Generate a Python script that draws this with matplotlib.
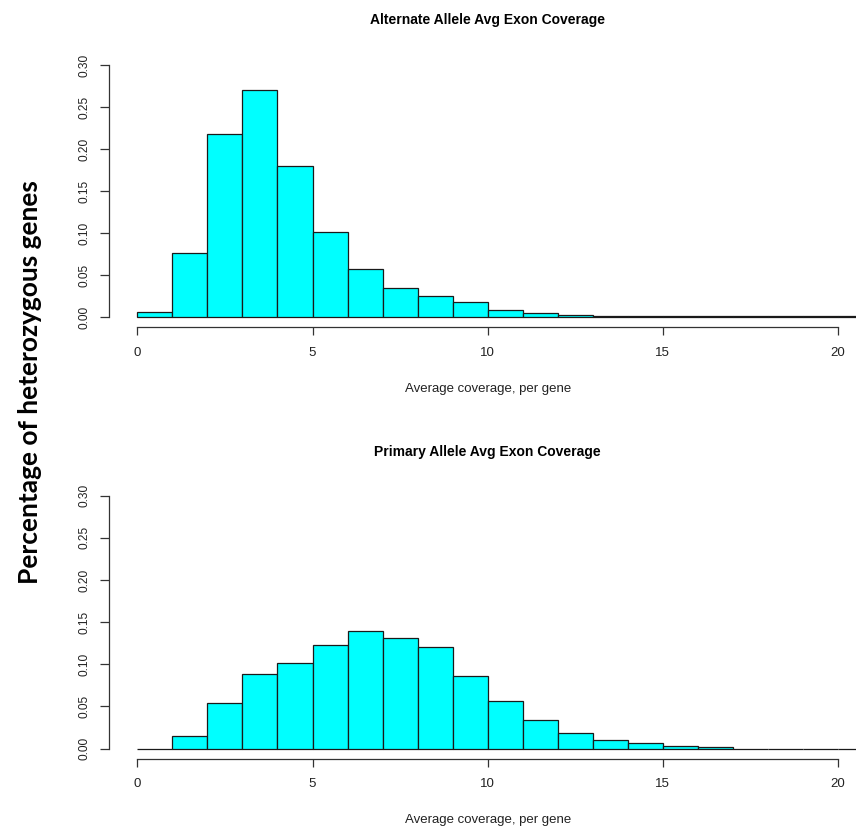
import numpy as np
import matplotlib
matplotlib.use("Agg")
import matplotlib.pyplot as plt

plt.rcParams['font.family'] = ['Liberation Sans', 'DejaVu Sans']

# histogram breaks (width 1) and densities per bin
bin_edges = list(range(0, 24))
alt_density = [0.0056, 0.0758, 0.218, 0.270, 0.180, 0.101, 0.057, 0.034, 0.025, 0.018,
               0.0080, 0.0052, 0.0028, 0.0012, 0.0009, 0.0008, 0.0007, 0.0007, 0.0006,
               0.0006, 0.0006, 0.0005, 0.0005]
pri_density = [0.0, 0.0154, 0.054, 0.0886, 0.101, 0.123, 0.140, 0.131, 0.121, 0.0855,
               0.0566, 0.034, 0.019, 0.0099, 0.006, 0.003, 0.0016, 0.0, 0.0,
               0.0, 0.0, 0.0, 0.0]

titles = ["Alternate Allele Avg Exon Coverage", "Primary Allele Avg Exon Coverage"]
x_label = "Average coverage, per gene"
y_label = "Percentage of heterozygous genes"
x_ticks = [0, 5, 10, 15, 20]
y_ticks = [0.00, 0.05, 0.10, 0.15, 0.20, 0.25, 0.30]

fig = plt.figure(figsize=(8.56, 8.31), dpi=100)

# panel boxes (figure fractions); right edge runs slightly past the figure
boxes = [[0.1277, 0.6064, 0.884, 0.3275],
         [0.1277, 0.0871, 0.884, 0.3285]]
title_off = [25, 24]
xlab_off = [-44.5, -44]

for i, dens in enumerate([alt_density, pri_density]):
    ax = fig.add_axes(boxes[i])
    ax.bar(bin_edges[:-1], dens, width=1, align='edge', color='#00ffff',
           edgecolor='#1a1a1a', linewidth=0.9)
    ax.set_xlim(-0.8, 20.8)
    ax.set_ylim(-0.012, 0.312)

    for s in ['top', 'right']:
        ax.spines[s].set_visible(False)
    ax.spines['left'].set_bounds(0, 0.30)
    ax.spines['bottom'].set_bounds(0, 20)
    for s in ['left', 'bottom']:
        ax.spines[s].set_color('#333333')
        ax.spines[s].set_linewidth(0.9)

    ax.set_xticks(x_ticks)
    ax.set_xticklabels([str(t) for t in x_ticks], fontsize=9.5, color='#222222')
    ax.set_yticks(y_ticks)
    ax.set_yticklabels(['%.2f' % t for t in y_ticks], rotation=90, va='center',
                       fontsize=8.6, color='#222222')
    ax.tick_params(axis='x', length=6, width=0.9, color='#333333', pad=8)
    ax.tick_params(axis='y', length=6.5, width=0.9, color='#333333', pad=7)

    ax.annotate(titles[i], xy=(0.5, 1), xycoords='axes fraction',
                xytext=(0, title_off[i]), textcoords='offset points',
                ha='center', va='center', fontsize=10, fontweight='bold')
    ax.annotate(x_label, xy=(0.5, 0), xycoords='axes fraction',
                xytext=(0, xlab_off[i]), textcoords='offset points',
                ha='center', va='center', fontsize=9.5, color='#222222')

fig.text(0.035, 0.5397, y_label, rotation=90, ha='center', va='center',
         fontsize=19, fontweight='bold', family=['Lato', 'DejaVu Sans'])

fig.savefig('out.png', dpi=100)
